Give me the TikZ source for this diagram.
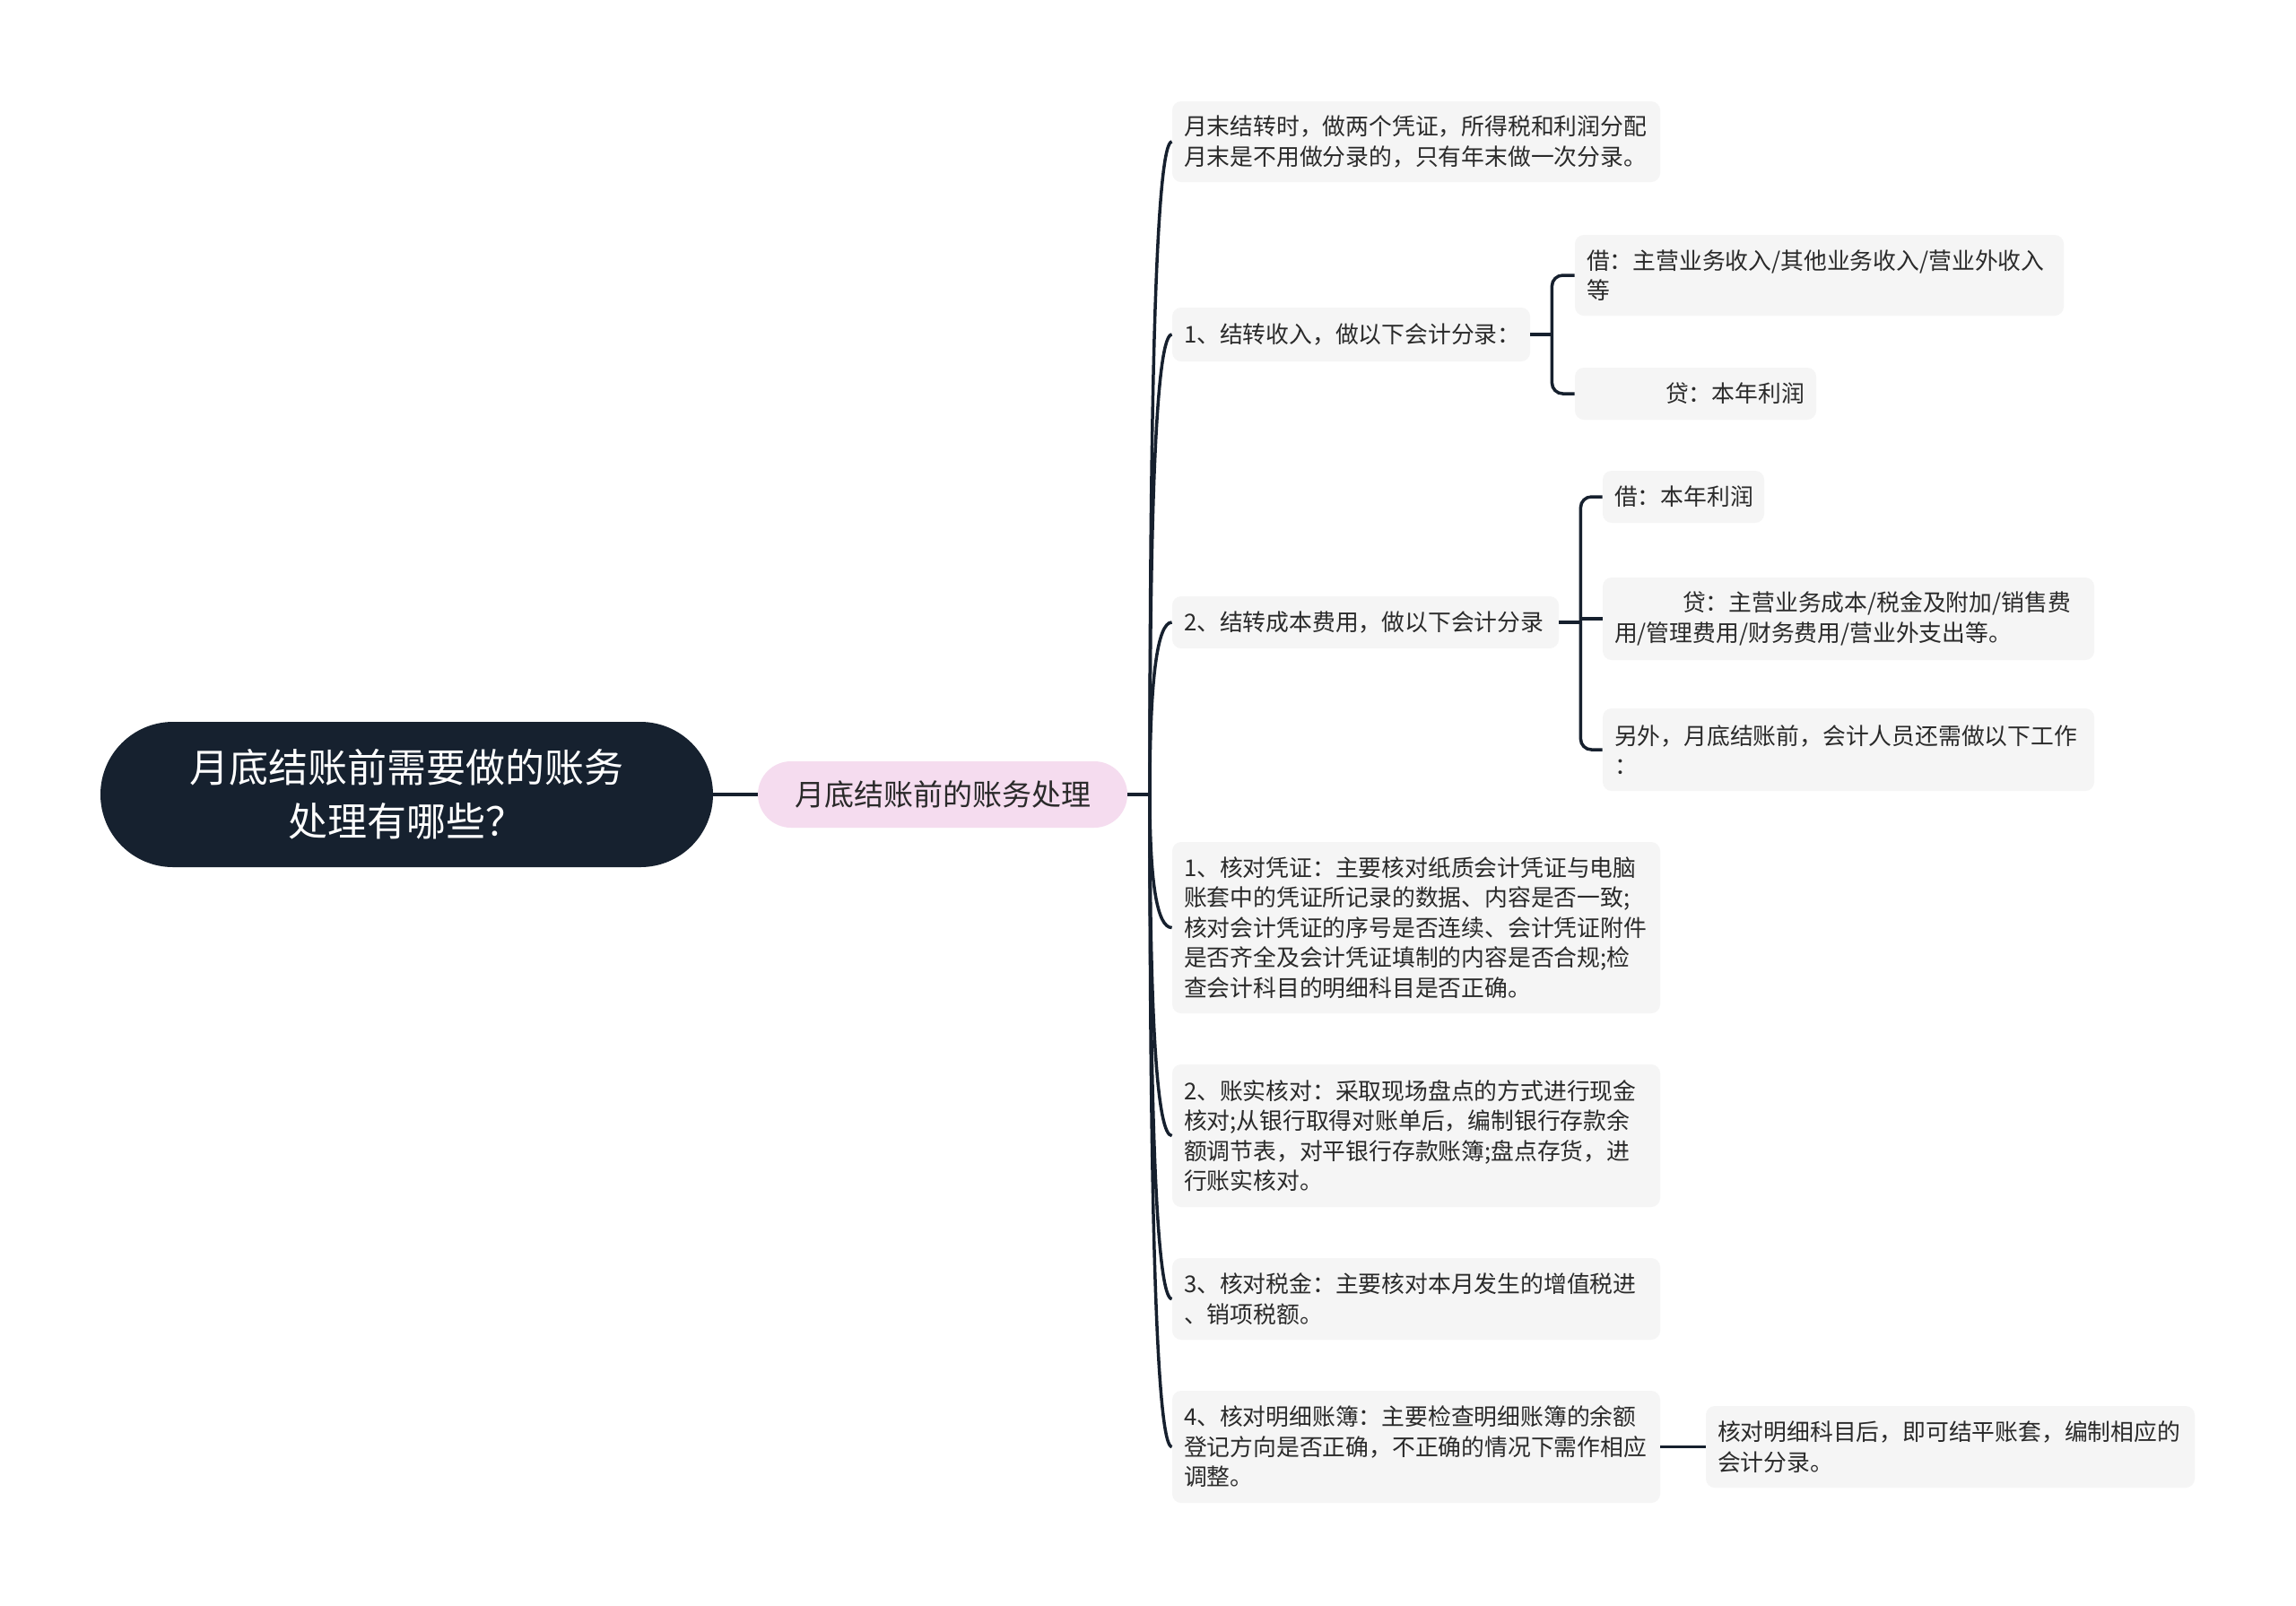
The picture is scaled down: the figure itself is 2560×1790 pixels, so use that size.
\documentclass[tikz,border=0pt]{standalone}
\usepackage{fontspec}
\setmainfont{Noto Sans CJK SC}
\usetikzlibrary{calc}
\definecolor{navy}{HTML}{16212F}
\definecolor{pinkfill}{HTML}{F5DCEF}
\definecolor{leafgray}{HTML}{F5F5F5}
\definecolor{linecol}{HTML}{16202E}
\definecolor{txt}{HTML}{2A2A2A}
\begin{document}
\begin{tikzpicture}[x=0.5pt,y=-0.5pt,
  conn/.style={draw=linecol, line width=1.75pt},
  leaf/.style={fill=leafgray, rounded corners=5pt, inner xsep=6.5pt, inner ysep=0pt,
    align=left, text=txt, font=\fontsize{12.9pt}{16.75pt}\selectfont},
  rootbox/.style={fill=navy, rounded corners=40.5pt, minimum width=341.5pt, minimum height=81pt,
    text=white, align=center, font=\fontsize{22pt}{30pt}\selectfont},
  mainbox/.style={fill=pinkfill, rounded corners=18.5pt, minimum width=206pt, minimum height=37pt,
    text=txt, font=\fontsize{16.5pt}{20pt}\selectfont}
]
\useasboundingbox[fill=white] (0,0) rectangle (2560,1790);

\node[rootbox] (root) at (453.5,886) {月底结账前需要做的账务\\处理有哪些？};
\node[mainbox] (main) at (1051,886) {月底结账前的账务处理};

\node[leaf, text width=259pt, minimum height=45pt] (A) at (1579,158)
  {月末结转时，做两个凭证，所得税和利润分配\\月末是不用做分录的，只有年末做一次分录。};
\node[leaf, text width=186.5pt, minimum height=30pt] (B) at (1506.5,373)
  {1、结转收入，做以下会计分录：};
\node[leaf, text width=259.5pt, minimum height=45pt] (B1) at (2028.5,307)
  {借：主营业务收入/其他业务收入/营业外收入\\等};
\node[leaf, text width=121.5pt, minimum height=29pt] (B2) at (1890.5,439)
  {\hspace*{44pt}贷：本年利润};
\node[leaf, text width=202.5pt, minimum height=29pt] (C) at (1522.5,694)
  {2、结转成本费用，做以下会计分录};
\node[leaf, text width=77pt, minimum height=29pt] (C1) at (1877,554)
  {借：本年利润};
\node[leaf, text width=261pt, minimum height=46pt] (C2) at (2061,690)
  {\hspace*{38pt}贷：主营业务成本/税金及附加/销售费\\用/管理费用/财务费用/营业外支出等。};
\node[leaf, text width=261pt, minimum height=46pt] (C3) at (2061,836)
  {另外，月底结账前，会计人员还需做以下工作\\：};
\node[leaf, text width=259pt, minimum height=95.5pt] (D) at (1579,1034.5)
  {1、核对凭证：主要核对纸质会计凭证与电脑\\账套中的凭证所记录的数据、内容是否一致;\\核对会计凭证的序号是否连续、会计凭证附件\\是否齐全及会计凭证填制的内容是否合规;检\\查会计科目的明细科目是否正确。};
\node[leaf, text width=259pt, minimum height=79.5pt] (E) at (1579,1266.5)
  {2、账实核对：采取现场盘点的方式进行现金\\核对;从银行取得对账单后，编制银行存款余\\额调节表，对平银行存款账簿;盘点存货，进\\行账实核对。};
\node[leaf, text width=259pt, minimum height=45.5pt] (F) at (1579,1448.5)
  {3、核对税金：主要核对本月发生的增值税进\\、销项税额。};
\node[leaf, text width=259pt, minimum height=62.5pt] (G) at (1579,1613.5)
  {4、核对明细账簿：主要检查明细账簿的余额\\登记方向是否正确，不正确的情况下需作相应\\调整。};
\node[leaf, text width=259.5pt, minimum height=45.5pt] (G1) at (2174.5,1613.5)
  {核对明细科目后，即可结平账套，编制相应的\\会计分录。};

% root to main
\draw[conn] (root.east) -- (main.west);
% trunk
\coordinate (T) at (1282,886);
\draw[conn] (main.east) -- (T);
\foreach \n in {A,B,C,D,E,F,G}{
  \coordinate (k\n) at (T |- \n.west);
  \draw[conn] (T) .. controls ($(T)!2/3!(k\n)$) and ($(\n.west)!2/3!(k\n)$) .. (\n.west);
}
% bracket for B
\coordinate (bj) at ($(B.east)+(24,0)$);
\draw[conn] (B.east) -- (bj);
\draw[conn, rounded corners=6pt] (B1.west) -| (bj) |- (B2.west);
% bracket for C
\coordinate (cj) at ($(C.east)+(24,0)$);
\draw[conn] (C.east) -- (cj);
\draw[conn, rounded corners=6pt] (C1.west) -| (cj) |- (C3.west);
\draw[conn] (cj |- C2.west) -- (C2.west);
% G to G1
\draw[conn] (G.east) -- (G1.west);
\end{tikzpicture}
\end{document}
